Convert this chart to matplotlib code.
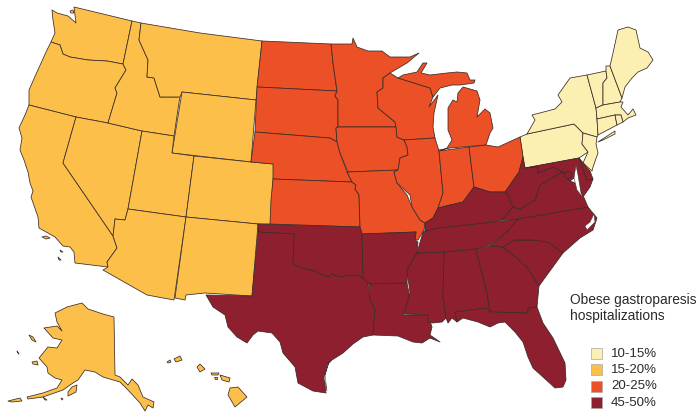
#!/usr/bin/env python3
"""Obese gastroparesis hospitalizations by state, outlines read off the picture in pixels."""
import matplotlib
matplotlib.use('Agg')
import matplotlib.pyplot as plt
from matplotlib.patches import Polygon, Rectangle, Circle

# ── state outlines (x, y in picture pixels) ─────────────────────────────────
WA = [(52,10),(57,13),(68,16),(76,23),(74,7),(132,21),(123,64),(107,61),(88,60),(70,57),(63,54),(60,45),(51,42),(55,33),(53,20)]
OR = [(51,42),(60,45),(63,54),(70,57),(88,60),(107,61),(123,64),(126,70),(115,88),(117,93),(108,123),(76,117),(29,105),(29,90),(37,72),(47,50)]
CA = [(29,105),(76,117),(63,163),(113,236),(117,248),(107,262),(108,267),(75,263),(74,252),(70,247),(63,246),(55,237),(39,228),(38,217),(31,197),(33,191),(30,183),(28,172),(24,160),(20,150),(22,138),(19,128),(25,115)]
NV = [(76,117),(108,123),(142,131),(128,209),(125,220),(115,219),(113,236),(63,163)]
ID = [(132,21),(141,23),(139,40),(148,60),(147,77),(154,78),(160,97),(178,97),(180,96),(174,136),(142,131),(108,123),(117,93),(115,88),(126,70),(123,64)]
MT = [(141,23),(200,33),(262,41),(256,100),(182,92),(180,97),(160,97),(154,78),(147,77),(148,60),(139,40)]
WY = [(182,92),(256,100),(251,162),(172,153)]
UT = [(142,131),(174,136),(172,153),(194,156),(186,217),(128,209)]
CO = [(194,156),(251,162),(274,164),(271,224),(258,224),(186,217)]
AZ = [(128,209),(186,217),(174,300),(147,295),(103,270),(108,267),(107,262),(117,248),(113,236),(115,219),(125,220)]
NM = [(186,217),(258,224),(252,296),(205,293),(186,295),(185,300),(175,298)]
ND = [(262,41),(331,44),(333,63),(337,91),(257,87)]
SD = [(257,87),(337,91),(335,96),(338,100),(338,127),(336,128),(337,142),(330,138),(317,137),(255,132)]
NE = [(255,132),(317,137),(330,138),(337,142),(340,153),(347,172),(352,182),(273,179),(273,164),(251,162)]
KS = [(273,179),(352,182),(356,185),(355,189),(359,195),(360,227),(270,224),(271,200)]
OK = [(258,224),(360,227),(362,234),(363,278),(357,275),(350,276),(345,275),(343,277),(337,276),(332,274),(328,277),(323,275),(318,273),(315,271),(310,270),(302,268),(297,266),(293,264),(294,234),(258,232)]
TX = [(258,232),(294,234),(293,264),(297,266),(302,268),(310,270),(315,271),(318,273),(323,275),(328,277),(332,274),(337,276),(343,277),(345,275),(350,276),(357,275),(363,278),(368,283),(370,300),(375,310),(373,335),(363,337),(353,344),(343,353),(332,360),(327,365),(324,377),(326,393),(313,391),(298,383),(295,367),(283,353),(280,342),(272,333),(258,331),(253,335),(247,343),(237,337),(228,327),(225,315),(213,307),(206,295),(252,296)]
MN = [(331,44),(352,44),(353,38),(357,47),(368,51),(382,51),(390,57),(410,57),(419,53),(407,63),(390,73),(383,78),(383,88),(377,92),(378,108),(395,122),(396,127),(338,127),(338,100),(335,96),(337,91),(333,63)]
IA = [(336,128),(338,127),(396,127),(397,137),(404,140),(407,147),(408,155),(400,158),(398,170),(348,172),(340,153),(337,142)]
MO = [(347,172),(398,170),(394,172),(397,183),(407,195),(412,207),(420,220),(425,223),(424,230),(418,240),(415,240),(416,232),(362,234),(360,227),(359,195),(355,189),(356,185),(352,182)]
WI = [(383,78),(390,73),(398,78),(430,88),(433,97),(429,107),(438,95),(434,113),(433,127),(435,138),(404,140),(397,137),(396,127),(395,122),(378,108),(377,92),(383,88)]
MI_UP = [(398,78),(403,75),(417,72),(423,63),(427,63),(421,73),(430,75),(447,73),(457,72),(467,73),(470,80),(475,80),(474,83),(460,85),(452,85),(440,88),(433,97),(430,88)]
MI_LP = [(439,150),(450,148),(486,145),(490,133),(493,128),(490,113),(485,109),(477,117),(480,100),(477,91),(463,87),(458,93),(457,102),(453,100),(448,108),(448,130),(452,140),(447,148),(441,151)]
IL = [(404,140),(435,138),(439,151),(443,193),(438,208),(433,218),(425,223),(420,220),(412,207),(410,195),(397,183),(394,172),(398,170),(400,158),(408,155),(407,147)]
IN = [(439,151),(469,147),(474,187),(463,202),(450,205),(438,208),(443,193)]
OH = [(469,147),(486,145),(498,147),(520,137),(523,157),(519,172),(510,185),(505,192),(490,192),(474,187)]
KY = [(474,187),(490,192),(505,192),(507,193),(513,207),(502,220),(493,222),(438,228),(425,231),(425,223),(433,218),(438,208),(450,205),(463,202)]
TN = [(417,253),(423,232),(425,231),(438,228),(493,222),(518,219),(507,232),(490,245),(476,249),(444,252)]
NC = [(518,219),(588,207),(597,218),(593,230),(580,238),(563,253),(548,242),(532,240),(515,240),(503,247),(490,246),(507,232)]
SC = [(503,247),(515,240),(532,240),(548,242),(563,253),(539,286),(527,267),(513,255)]
GA = [(476,249),(490,246),(503,247),(513,255),(527,267),(539,286),(537,307),(528,308),(528,313),(490,312),(487,293)]
AL = [(444,252),(476,249),(487,293),(490,312),(487,308),(455,312),(457,322),(452,318),(448,323),(446,318),(443,297)]
FL = [(455,312),(487,308),(490,312),(528,313),(528,308),(537,307),(543,323),(553,338),(565,363),(566,380),(563,387),(555,388),(543,377),(533,368),(528,357),(523,342),(515,332),(505,322),(498,323),(490,327),(478,322),(463,318),(457,322)]
MS = [(417,253),(444,252),(443,297),(446,318),(442,322),(433,323),(428,322),(428,315),(404,314),(410,293),(407,270)]
LA = [(369,284),(407,283),(410,298),(403,315),(428,315),(432,327),(430,335),(440,342),(430,338),(422,343),(413,342),(398,336),(373,335),(375,310),(370,300)]
AR = [(362,234),(416,232),(415,240),(418,242),(417,253),(408,270),(407,283),(369,284),(363,278)]
WV = [(523,157),(525,168),(538,167),(538,173),(553,167),(563,172),(552,178),(540,185),(535,200),(520,209),(513,207),(507,193),(505,192),(510,185),(519,172)]
MD = [(525,168),(579,158),(587,180),(593,179),(590,187),(583,197),(580,190),(578,175),(576,167),(574,178),(570,181),(563,172),(553,167),(538,173),(538,167)]
VA = [(502,220),(513,207),(520,209),(535,200),(540,185),(552,178),(563,172),(570,181),(575,183),(582,193),(588,207),(518,219)]
DE = [(579,158),(585,165),(590,171),(593,179),(587,180)]
NJ = [(583,133),(597,137),(596,144),(598,153),(593,167),(592,171),(583,163),(588,152),(582,144)]
PA = [(520,137),(527,134),(574,124),(583,133),(582,144),(588,152),(579,158),(525,168),(523,157)]
NY = [(527,134),(535,120),(532,115),(555,109),(562,102),(558,95),(570,78),(587,75),(593,97),(596,108),(597,119),(598,135),(597,137),(583,133),(574,124)]
LI = [(598,142),(615,131),(615,134),(603,140)]
VT = [(587,75),(606,71),(607,78),(603,83),(603,105),(596,108),(593,97)]
NH = [(606,66),(610,66),(622,98),(620,102),(603,105),(603,83),(607,78),(606,71)]
ME = [(610,66),(613,53),(618,30),(628,27),(636,30),(640,48),(648,52),(653,60),(647,68),(638,72),(632,78),(625,87),(622,98)]
MA = [(596,108),(603,105),(620,102),(623,102),(621,107),(628,115),(633,109),(636,115),(628,118),(623,122),(621,115),(615,115),(597,119)]
CT = [(597,119),(615,115),(617,125),(598,135)]
RI = [(615,115),(621,115),(623,122),(617,125)]
AK = [(55,313),(67,307),(82,303),(88,309),(103,314),(114,317),(115,375),(120,377),(128,385),(132,379),(138,385),(143,397),(154,402),(153,408),(148,405),(145,411),(140,403),(128,390),(120,382),(103,377),(95,372),(85,370),(78,380),(73,383),(63,390),(43,397),(28,399),(27,397),(43,393),(57,388),(62,380),(55,378),(48,373),(47,367),(39,358),(48,347),(57,348),(62,340),(53,338),(44,328),(57,326),(62,331),(57,322)]
AK_ISLANDS = [
    [(68,392),(72,387),(77,385),(76,392),(68,396)],
    [(32,362),(37,361),(38,365),(33,364)],
    [(29,335),(33,337),(36,342),(32,340)],
    [(17,351),(19,354),(18,353)],
    [(8,401),(20,398),(22,401),(12,402)],
    [(43,397),(47,400),(45,400)],
    [(61,398),(63,399),(62,400)],
]
HI = [
    [(230,388),(238,387),(247,397),(235,407),(228,395)],
    [(220,375),(230,378),(229,382),(222,380)],
    [(211,373),(219,373),(218,375),(212,375)],
    [(214,377),(217,377),(217,379),(215,379)],
    [(197,367),(200,364),(205,369),(200,372)],
    [(174,359),(180,356),(182,360),(176,362)],
    [(167,362),(170,360),(171,362),(168,363)],
]
CA_ISLANDS = [
    [(42,237),(46,236),(50,238),(46,239)],
    [(60,250),(63,252),(61,252)],
    [(58,257),(61,260),(59,260)],
]
WA_ISLANDS = [[(70,11),(73,10),(74,13),(71,13)]]

# white water cut into the outlines
CHESAPEAKE = [(576,165),(578,175),(581,193),(584,199),(577,190),(574,178)]
PAMLICO = [(594,214),(595,222),(587,230),(585,226),(590,222)]
PADRE = [(329,362),(325,375),(327,391),(324,378)]

DC = (568, 175)

# ── value bands ─────────────────────────────────────────────────────────────
BAND_LABELS = ['10-15%', '15-20%', '20-25%', '45-50%']
BAND_COLORS = ['#FBEFB2', '#FBBF4A', '#EB5027', '#8E1F2F']
BAND_10 = [PA, NY, LI, NJ, VT, NH, ME, MA, CT, RI]
BAND_15 = [WA, OR, CA, NV, ID, MT, WY, UT, CO, AZ, NM, AK] + AK_ISLANDS + HI + CA_ISLANDS + WA_ISLANDS
BAND_20 = [ND, SD, NE, KS, MN, IA, MO, WI, MI_UP, MI_LP, IL, IN, OH]
BAND_45 = [OK, TX, AR, LA, MS, AL, TN, KY, GA, FL, SC, NC, VA, WV, MD, DE]
BANDS = [BAND_10, BAND_15, BAND_20, BAND_45]

LEGEND_TITLE = 'Obese gastroparesis\nhospitalizations'
EDGE = '#3b2b26'


def main():
    plt.rcParams['font.family'] = ['Liberation Sans', 'DejaVu Sans']
    fig = plt.figure(figsize=(6.98, 4.16), dpi=100)
    ax = fig.add_axes([0, 0, 1, 1])
    ax.set_xlim(0, 698)
    ax.set_ylim(416, 0)
    ax.axis('off')

    for band, color in zip(BANDS, BAND_COLORS):
        for outline in band:
            ax.add_patch(Polygon(outline, closed=True, facecolor=color,
                                 edgecolor=EDGE, linewidth=0.55, joinstyle='round'))

    for water in (CHESAPEAKE, PAMLICO, PADRE):
        ax.add_patch(Polygon(water, closed=True, facecolor='white',
                             edgecolor=EDGE, linewidth=0.35))
    ax.add_patch(Circle(DC, 3.6, facecolor=BAND_COLORS[3], edgecolor=EDGE, linewidth=0.55))

    # legend
    ax.text(570, 320, LEGEND_TITLE, fontsize=9.9, color='#2a2a2a', va='baseline',
            linespacing=1.15)
    for i, (label, color) in enumerate(zip(BAND_LABELS, BAND_COLORS)):
        y = 348 + i * 16.3
        ax.add_patch(Rectangle((591, y), 11, 11, facecolor=color,
                               edgecolor='#a8a8a8', linewidth=0.5))
        ax.text(611, y + 5.6, label, fontsize=9.5, color='#2a2a2a', va='center')

    fig.savefig('out.png', dpi=100)
    plt.close(fig)


if __name__ == '__main__':
    main()
